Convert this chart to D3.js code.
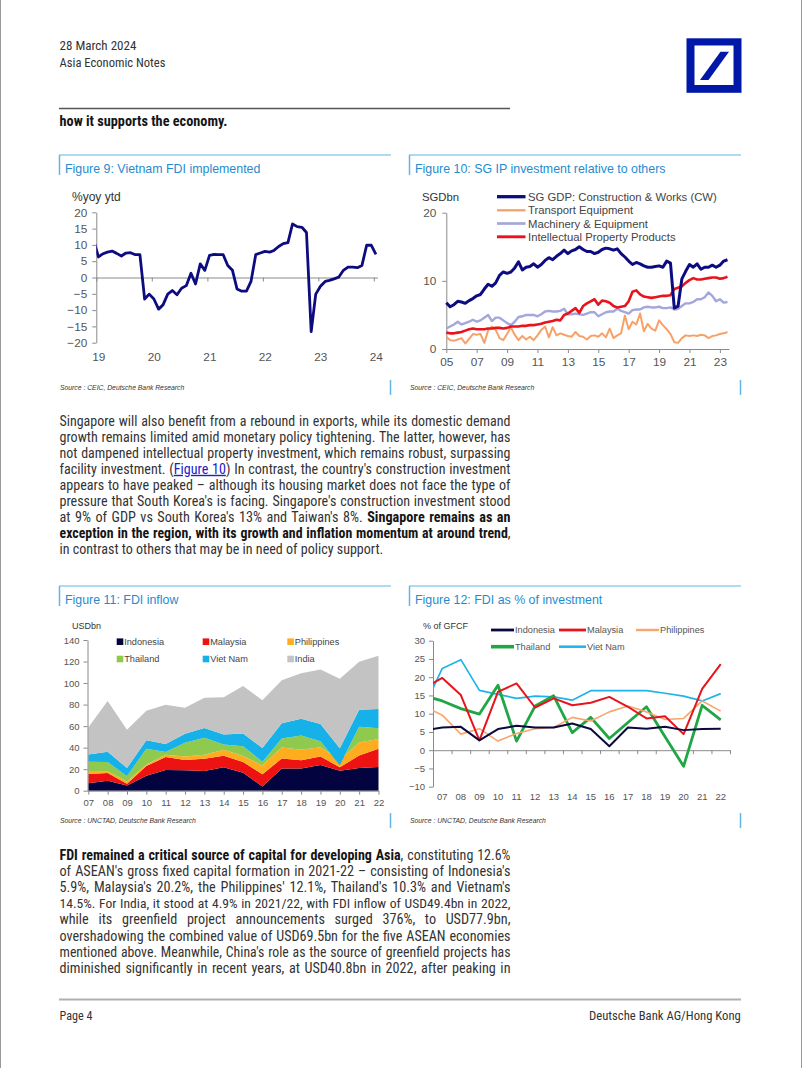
<!DOCTYPE html>
<html><head><meta charset="utf-8">
<script src="https://cdn.jsdelivr.net/npm/d3@7"></script>
<style>body{margin:0;background:#fff}svg{display:block}</style>
</head><body><svg id="page" width="802" height="1068"></svg>
<script>
// ---------------- DATA ----------------
// Figure 9: Vietnam FDI implemented, %yoy ytd, monthly Dec-2018 .. Jan-2024
const fig9Start = [2018, 11];
const vnFdiYtd = [11.5,
  6.3,7.3,7.8,8.1,7.4,6.6,7.5,7.6,7.0,7.0,-6.6,-5.1,
  -6.6,-9.7,-8.4,-5.1,-4.0,-5.3,-3.3,-2.5,1.3,-2.0,4.2,2.2,
  6.8,7.1,7.0,7.0,3.7,2.2,-3.5,-4.2,-4.2,-1.2,7.0,7.5,
  8.0,7.8,8.3,9.5,10.4,10.7,16.4,15.6,15.4,13.8,-16.6,-5.1,
  -2.7,-1.2,-0.9,-0.4,0.1,2.2,3.2,3.2,3.0,3.7,9.9,9.9,
  7.1];
const fig9YTicks = [-20,-15,-10,-5,0,5,10,15,20];
const fig9XTicks = [2019,2020,2021,2022,2023,2024];

// Figure 10: SG investment, SGDbn, quarterly 2005Q1 .. 2023Q3
const fig10StartYear = 2005;
const sgConstruction = [6.8,6.2,6.5,7.0,6.9,6.7,7.1,7.4,7.8,8.0,
  8.8,9.5,9.2,9.7,10.8,11.3,11.1,11.3,11.9,12.8,
  11.6,12.0,12.1,12.5,12.0,12.4,13.0,13.4,13.1,13.6,
  14.0,14.5,14.0,14.4,14.6,15.0,14.6,14.3,14.3,14.0,
  14.2,14.6,14.8,14.7,14.5,14.7,14.0,13.5,12.9,12.4,
  12.7,12.5,12.2,12.0,12.0,12.1,12.2,12.0,12.9,12.6,
  6.0,6.3,10.3,11.4,12.4,12.0,12.5,11.7,12.0,12.0,
  12.3,12.0,12.3,12.9,13.1];
const sgTransport = [1.8,1.3,1.2,1.4,1.6,0.8,1.5,2.2,2.1,2.2,
  0.9,2.7,3.3,2.8,1.6,1.3,2.2,3.2,2.1,1.3,
  1.9,1.4,1.8,1.3,2.0,2.8,3.3,1.7,3.2,2.0,
  2.3,2.1,1.9,1.8,2.5,1.9,1.8,1.4,1.9,2.0,
  1.8,2.3,1.7,3.0,1.6,2.0,2.3,4.9,2.9,4.0,
  3.6,5.2,2.6,3.7,3.0,2.7,4.2,3.5,2.9,2.2,
  1.0,0.9,1.6,2.0,1.9,2.0,1.9,2.1,2.0,1.6,
  1.9,2.0,2.2,2.3,2.5];
const sgMachinery = [3.0,3.3,3.6,4.0,3.6,3.8,4.0,4.3,4.0,4.2,
  4.6,5.0,4.1,4.6,4.6,4.2,3.8,3.5,4.0,4.7,
  4.8,5.0,5.0,5.0,4.8,5.1,5.5,5.6,5.5,5.5,
  5.6,5.9,5.1,5.1,5.2,5.1,5.0,5.2,5.4,5.4,
  4.8,5.1,5.4,5.5,5.5,5.9,5.6,5.4,5.2,5.7,
  5.8,5.8,6.1,6.2,6.1,6.1,6.2,6.0,6.0,6.1,
  5.8,5.9,6.3,6.7,6.7,6.9,7.3,7.3,7.6,8.3,
  7.8,7.0,7.3,6.8,6.9];
const sgIPP = [2.4,2.3,2.3,2.4,2.5,2.7,2.9,3.0,2.9,2.9,
  2.9,3.0,3.0,3.1,3.1,3.0,3.1,3.3,3.3,3.3,
  3.4,3.4,3.5,3.5,3.6,3.7,3.9,4.0,4.1,4.3,
  4.2,5.0,5.2,5.6,6.0,5.3,6.3,6.7,7.0,7.3,
  6.5,7.1,7.0,6.8,6.3,6.1,6.2,6.3,7.0,8.4,
  8.6,8.0,7.7,7.6,7.5,7.6,7.7,7.8,7.8,7.9,
  8.8,9.0,9.2,9.7,10.1,10.4,10.2,10.2,10.3,10.4,
  10.5,10.5,10.3,10.4,10.6];
const fig10Names = ["SG GDP: Construction & Works (CW)","Transport Equipment","Machinery & Equipment","Intellectual Property Products"];
const fig10YTicks = [0,10,20];
const fig10XTicks = [2005,2007,2009,2011,2013,2015,2017,2019,2021,2023];

// Figure 11: FDI inflow, USDbn, 2007..2022
const years11 = ["07","08","09","10","11","12","13","14","15","16","17","18","19","20","21","22"];
const fdiIndonesia  = [6.9,9.3,4.9,13.8,19.2,19.1,18.4,21.8,16.6,3.9,20.6,20.6,23.9,18.6,21.2,22.0];
const fdiMalaysia   = [8.5,7.2,1.5,9.1,12.2,9.4,11.3,10.6,10.1,11.3,9.3,7.6,7.8,3.2,11.6,16.9];
const fdiPhilippines= [2.9,1.5,2.1,1.3,2.0,3.2,3.7,5.7,5.6,8.3,10.3,9.9,8.7,6.8,12.0,9.2];
const fdiThailand   = [8.6,8.6,5.0,14.7,2.5,12.9,15.9,4.8,9.0,3.5,8.3,13.2,5.5,-4.9,14.6,10.0];
const fdiVietNam    = [6.7,9.6,7.6,8.0,7.4,8.4,8.9,9.2,11.8,12.6,14.1,15.5,16.1,15.8,15.7,17.9];
const fdiIndia      = [25.2,47.1,35.6,27.4,36.5,24.0,28.2,34.6,44.1,44.5,40.0,42.2,50.6,64.4,44.7,49.4];
const fig11Names = ["Indonesia","Malaysia","Philippines","Thailand","Viet Nam","India"];
const fig11YTicks = [0,20,40,60,80,100,120,140];

// Figure 12: FDI as % of GFCF ("06" sits left of the axis and is clipped)
const cats12 = ["06","07","08","09","10","11","12","13","14","15","16","17","18","19","20","21","22"];
const gfcfIndonesia  = [5.4,6.2,6.4,2.7,5.8,6.7,6.2,6.2,7.3,5.8,1.1,6.2,5.9,6.4,5.5,5.8,5.9];
const gfcfMalaysia   = [17.0,19.8,15.1,2.7,16.0,18.3,11.7,14.2,12.3,13.0,14.6,11.9,8.7,9.3,4.4,16.8,23.6];
const gfcfPhilippines= [12.1,9.6,4.4,5.9,2.5,4.6,5.9,6.2,9.0,8.0,10.5,12.1,10.5,8.4,8.7,13.5,10.7];
const gfcfThailand   = [15.0,13.5,11.4,9.9,17.8,2.5,12.1,14.9,4.8,9.0,3.2,7.6,11.9,3.7,-4.4,12.3,8.3];
const gfcfVietNam    = [11.5,22.4,24.8,16.4,15.3,14.2,14.8,14.6,13.7,16.3,16.3,16.3,16.3,15.6,14.8,13.5,15.5];
const fig12Names = ["Indonesia","Malaysia","Philippines","Thailand","Viet Nam"];
const fig12YTicks = [-10,-5,0,5,10,15,20,25,30];

// ---------------- STYLE ----------------
const BODY = "'Liberation Sans Narrow','Arial Narrow','Roboto Condensed','Liberation Sans',Arial,sans-serif";
const CHART = "'Liberation Sans',Arial,sans-serif";
const TITLE_BLUE = "#1f8ccf";
const FRAME_BLUE = "#62b6e6";
const AXIS = "#8a8a8a";
const TICKTXT = "#555";

const svg = d3.select("#page");
svg.append("rect").attr("width",802).attr("height",1068).attr("fill","#fff");
svg.append("line").attr("x1",0.5).attr("x2",0.5).attr("y1",0).attr("y2",1068).attr("stroke","#999");
svg.append("line").attr("x1",801.5).attr("x2",801.5).attr("y1",0).attr("y2",1068).attr("stroke","#999");

function textLine(x, y, parts, o) {
  o = o || {};
  let size = o.size || 13;
  const t = svg.append("text").attr("x", x).attr("y", y)
    .attr("font-family", o.font || BODY).attr("font-size", size)
    .attr("fill", o.fill || "#333").attr("text-anchor", o.anchor || "start");
  parts.forEach(p => {
    const s = t.append("tspan").text(p.t);
    if (p.b) s.attr("font-weight", "bold").attr("fill", "#151515");
    if (p.link) s.attr("fill", "#2020c8").attr("text-decoration", "underline");
  });
  if (o.width) {
    let w = t.node().getComputedTextLength();
    const n = parts.map(p => p.t).join("").split(" ").length - 1;
    if (o.justify && n > 0) {
      const minW = o.width - n * 0.6;
      if (w > minW) {
        size = size * minW / w;
        t.attr("font-size", size);
        w = t.node().getComputedTextLength();
      }
      t.style("word-spacing", Math.max(0, (o.width - w) / n) + "px");
    } else {
      size = size * o.width / w;
      t.attr("font-size", size);
    }
  }
  return t;
}

// ---------------- HEADER / FOOTER ----------------
textLine(59.5, 50, [{t:"28 March 2024"}], {size:13, width:77});
textLine(59.5, 67, [{t:"Asia Economic Notes"}], {size:13, width:106});
svg.append("line").attr("x1",59).attr("x2",510).attr("y1",108.5).attr("y2",108.5).attr("stroke","#555").attr("stroke-width",1.6);
textLine(59.5, 126, [{t:"how it supports the economy.", b:true}], {size:13.8, width:168});

// logo
const logo = svg.append("g");
logo.append("rect").attr("x",686.5).attr("y",38.3).attr("width",55).attr("height",54.5).attr("fill","#0018a8");
logo.append("rect").attr("x",694.5).attr("y",45.5).attr("width",39).attr("height",39.5).attr("fill","#fff");
logo.append("polygon").attr("points","700,80 708.5,80 729,51.7 720.5,51.7").attr("fill","#0018a8");

svg.append("line").attr("x1",59).attr("x2",741).attr("y1",999.5).attr("y2",999.5).attr("stroke","#b0b0b0").attr("stroke-width",2);
textLine(59.5, 1020, [{t:"Page 4"}], {size:13, width:33});
textLine(589, 1020, [{t:"Deutsche Bank AG/Hong Kong"}], {size:13, width:152});

// ---------------- BODY TEXT ----------------
const BODY_SIZE = 14.2;
const para1 = [
  [{t:"Singapore will also benefit from a rebound in exports, while its domestic demand"}],
  [{t:"growth remains limited amid monetary policy tightening. The latter, however, has"}],
  [{t:"not dampened intellectual property investment, which remains robust, surpassing"}],
  [{t:"facility investment. ("},{t:"Figure 10",link:true},{t:") In contrast, the country's construction investment"}],
  [{t:"appears to have peaked \u2013 although its housing market does not face the type of"}],
  [{t:"pressure that South Korea's is facing. Singapore's construction investment stood"}],
  [{t:"at 9% of GDP vs South Korea's 13% and Taiwan's 8%. "},{t:"Singapore remains as an",b:true}],
  [{t:"exception in the region, with its growth and inflation momentum at around trend",b:true},{t:","}],
  [{t:"in contrast to others that may be in need of policy support."}]
];
para1.forEach((parts, i) => {
  const last = i === para1.length - 1;
  textLine(59.5, 425.5 + 16.1 * i, parts, {size:BODY_SIZE, width: last ? 324 : 451, justify: !last});
});
const para2 = [
  [{t:"FDI remained a critical source of capital for developing Asia",b:true},{t:", constituting 12.6%"}],
  [{t:"of ASEAN's gross fixed capital formation in 2021-22 \u2013 consisting of Indonesia's"}],
  [{t:"5.9%, Malaysia's 20.2%, the Philippines' 12.1%, Thailand's 10.3% and Vietnam's"}],
  [{t:"14.5%. For India, it stood at 4.9% in 2021/22, with FDI inflow of USD49.4bn in 2022,"}],
  [{t:"while its greenfield project announcements surged 376%, to USD77.9bn,"}],
  [{t:"overshadowing the combined value of USD69.5bn for the five ASEAN economies"}],
  [{t:"mentioned above. Meanwhile, China's role as the source of greenfield projects has"}],
  [{t:"diminished significantly in recent years, at USD40.8bn in 2022, after peaking in"}]
];
para2.forEach((parts, i) => {
  textLine(59.5, 859.5 + 16.2 * i, parts, {size:BODY_SIZE, width:451, justify:true});
});

// ---------------- FIGURE FRAMES ----------------
function frame(x0, x1, yTop, title, ySrc, source) {
  svg.append("line").attr("x1",x0).attr("x2",x1).attr("y1",yTop).attr("y2",yTop).attr("stroke",FRAME_BLUE).attr("stroke-width",1.2);
  svg.append("line").attr("x1",x0+0.5).attr("x2",x0+0.5).attr("y1",yTop).attr("y2",yTop+20).attr("stroke",FRAME_BLUE).attr("stroke-width",1.5);
  svg.append("text").attr("x",x0+6).attr("y",yTop+17.5).attr("font-family",CHART).attr("font-size",12.4).attr("fill",TITLE_BLUE).text(title);
  svg.append("text").attr("x",x0+1).attr("y",ySrc+2.5).attr("font-family",CHART).attr("font-size",6.8).attr("font-style","italic").attr("fill","#333").text(source);
  svg.append("line").attr("x1",x1-0.5).attr("x2",x1-0.5).attr("y1",ySrc-7).attr("y2",ySrc+8).attr("stroke",FRAME_BLUE).attr("stroke-width",1.5);
}
frame(59, 391, 155, "Figure 9: Vietnam FDI implemented", 387, "Source : CEIC, Deutsche Bank Research");
frame(409, 741, 155, "Figure 10: SG IP investment relative to others", 387, "Source : CEIC, Deutsche Bank Research");
frame(59, 391, 586, "Figure 11: FDI inflow", 820, "Source : UNCTAD, Deutsche Bank Research");
frame(409, 741, 586, "Figure 12: FDI as % of investment", 820, "Source : UNCTAD, Deutsche Bank Research");

function styleAxis(g, size) {
  g.selectAll("path.domain").attr("stroke", AXIS);
  g.selectAll(".tick line").attr("stroke", AXIS);
  g.selectAll("text").attr("font-family", CHART).attr("font-size", size).attr("fill", TICKTXT);
}
const defs = svg.append("defs");

// ---------------- FIGURE 9 ----------------
{
  const x = d3.scaleTime().domain([new Date(2019,0,1), new Date(2024,0,1)]).range([96.3, 373.8]);
  const y = d3.scaleLinear().domain([-20, 20]).range([342.7, 212.3]);
  const dates = vnFdiYtd.map((v, i) => new Date(fig9Start[0], fig9Start[1] + i, 15));
  defs.append("clipPath").attr("id","c9").append("rect").attr("x",96.3).attr("y",190).attr("width",300).attr("height",170);
  svg.append("text").attr("x",72).attr("y",201).attr("font-family",CHART).attr("font-size",12).attr("fill","#333").text("%yoy ytd");
  const ya = svg.append("g").attr("transform","translate(96.3,0)")
    .call(d3.axisLeft(y).tickValues(fig9YTicks).tickSize(4).tickSizeOuter(0).tickPadding(5));
  styleAxis(ya, 11.8);
  const xa = svg.append("g").attr("transform",`translate(0,${y(0)})`)
    .call(d3.axisBottom(x).tickValues(fig9XTicks.map(d => new Date(d,0,1))).tickSize(4).tickSizeOuter(0).tickFormat(""));
  styleAxis(xa, 11.8);
  xa.select("path.domain").attr("d", `M96.3,0.5H378`);
  const xl = svg.append("g").attr("transform","translate(2,342.7)")
    .call(d3.axisBottom(x).tickValues(fig9XTicks.map(d => new Date(d,0,1))).tickSize(0).tickPadding(10).tickFormat(d3.timeFormat("%y")));
  xl.select("path.domain").remove();
  styleAxis(xl, 11.8);
  svg.append("path").attr("clip-path","url(#c9)")
    .attr("d", d3.line().x((d,i) => x(dates[i])).y(d => y(d))(vnFdiYtd))
    .attr("fill","none").attr("stroke","#0c0c80").attr("stroke-width",2.8).attr("stroke-linejoin","round");
}

// ---------------- FIGURE 10 ----------------
{
  const x = d3.scaleLinear().domain([2005, 2023.6]).range([446.3, 729]);
  const y = d3.scaleLinear().domain([0, 20]).range([349, 212.7]);
  const tq = sgConstruction.map((v, k) => fig10StartYear + k / 4);
  svg.append("text").attr("x",422).attr("y",201).attr("font-family",CHART).attr("font-size",11.3).attr("fill","#333").text("SGDbn");
  const ya = svg.append("g").attr("transform","translate(446.3,0)")
    .call(d3.axisLeft(y).tickValues(fig10YTicks).tickSize(4).tickSizeOuter(0).tickPadding(6));
  styleAxis(ya, 11.8);
  const xa = svg.append("g").attr("transform","translate(0,349)")
    .call(d3.axisBottom(x).tickValues(fig10XTicks).tickSize(4).tickSizeOuter(0).tickPadding(5).tickFormat(d => String(d).slice(2)));
  styleAxis(xa, 11.8);
  const series = [
    {v: sgConstruction, c:"#0c0c80", w:3},
    {v: sgTransport, c:"#f7a168", w:2},
    {v: sgMachinery, c:"#a4a7db", w:2.4},
    {v: sgIPP, c:"#e8131b", w:2.6}
  ];
  const line = d3.line().x((d,i) => x(tq[i])).y(d => y(d));
  [1,2,3,0].forEach(j => {
    svg.append("path").attr("d", line(series[j].v)).attr("fill","none")
      .attr("stroke", series[j].c).attr("stroke-width", series[j].w).attr("stroke-linejoin","round");
  });
  const rows = [196.7, 210.3, 223.5, 236.8];
  fig10Names.forEach((n, j) => {
    svg.append("line").attr("x1",497).attr("x2",525.5).attr("y1",rows[j]).attr("y2",rows[j])
      .attr("stroke", series[j].c).attr("stroke-width", series[j].w + 0.3);
    svg.append("text").attr("x",528).attr("y",rows[j]+4).attr("font-family",CHART).attr("font-size",11.3).attr("fill","#444").text(n);
  });
}

// ---------------- FIGURE 11 ----------------
{
  const yrs = years11.map(d => 2000 + +d);
  const x = d3.scaleLinear().domain([2007, 2022]).range([88.3, 378.5]);
  const y = d3.scaleLinear().domain([0, 140]).range([790.7, 640]);
  const cols = ["#03033f","#ee1313","#ffad1f","#8fca4f","#15b1e8","#c3c3c3"];
  const vals = [fdiIndonesia, fdiMalaysia, fdiPhilippines, fdiThailand, fdiVietNam, fdiIndia];
  const table = yrs.map((yr, i) => {
    const r = {year: yr};
    fig11Names.forEach((n, j) => r[n] = vals[j][i]);
    return r;
  });
  const stacked = d3.stack().keys(fig11Names)(table);
  const area = d3.area().x(d => x(d.data.year)).y0(d => y(d[0])).y1(d => y(d[1]));
  stacked.forEach((s, j) => svg.append("path").attr("d", area(s)).attr("fill", cols[j]));
  svg.append("text").attr("x",72).attr("y",629).attr("font-family",CHART).attr("font-size",9).attr("fill","#333").text("USDbn");
  const ya = svg.append("g").attr("transform","translate(87.5,0)")
    .call(d3.axisLeft(y).tickValues(fig11YTicks).tickSize(4).tickSizeOuter(0).tickPadding(4));
  styleAxis(ya, 9.5);
  const xa = svg.append("g").attr("transform","translate(0,790.7)")
    .call(d3.axisBottom(x).tickValues(yrs).tickSize(4).tickSizeOuter(0).tickPadding(4.5).tickFormat(d => String(d).slice(2)));
  styleAxis(xa, 9.5);
  xa.select("path.domain").attr("d","M87.5,0.5H379");
  const lx = [116.7, 202.7, 287.3], ly = [641.7, 659];
  fig11Names.forEach((n, j) => {
    const cx = lx[j % 3], cy = ly[Math.floor(j / 3)];
    svg.append("rect").attr("x",cx).attr("y",cy-3.3).attr("width",6.6).attr("height",6.6).attr("fill",cols[j]);
    svg.append("text").attr("x",cx+7.5).attr("y",cy+3.3).attr("font-family",CHART).attr("font-size",9.2).attr("fill","#444").text(n);
  });
}

// ---------------- FIGURE 12 ----------------
{
  const x = d3.scaleBand().domain(cats12.slice(1)).range([433, 730]).paddingInner(0).paddingOuter(0);
  const step = x.bandwidth();
  const cx = c => c === "06" ? x("07") + step / 2 - step : x(c) + step / 2;
  const y = d3.scaleLinear().domain([-10, 30]).range([786.7, 640.7]);
  defs.append("clipPath").attr("id","c12").append("rect").attr("x",433).attr("y",630).attr("width",310).attr("height",170);
  svg.append("text").attr("x",423).attr("y",628.5).attr("font-family",CHART).attr("font-size",9).attr("fill","#333").text("% of GFCF");
  const ya = svg.append("g").attr("transform","translate(433,0)")
    .call(d3.axisLeft(y).tickValues(fig12YTicks).tickSize(4).tickSizeOuter(0).tickPadding(4));
  styleAxis(ya, 9.5);
  const bx = d3.scaleLinear().domain([0, 16]).range([433, 730]);
  const xa = svg.append("g").attr("transform",`translate(0,${y(0)})`)
    .call(d3.axisBottom(bx).tickValues(d3.range(0, 17)).tickSize(4).tickSizeOuter(0).tickFormat(""));
  styleAxis(xa, 9.5);
  const xl = svg.append("g").attr("transform","translate(0,786.7)")
    .call(d3.axisBottom(x).tickSize(0).tickPadding(7));
  xl.select("path.domain").remove();
  styleAxis(xl, 9.5);
  const series = [
    {v: gfcfIndonesia, c:"#0a0a3e", w:2},
    {v: gfcfMalaysia, c:"#e8141c", w:2},
    {v: gfcfPhilippines, c:"#f7a66e", w:1.6},
    {v: gfcfThailand, c:"#21a646", w:2.8},
    {v: gfcfVietNam, c:"#20b3ea", w:1.7}
  ];
  const line = d3.line().x((d,i) => cx(cats12[i])).y(d => y(d));
  [4,3,2,1,0].forEach(j => {
    svg.append("path").attr("clip-path","url(#c12)").attr("d", line(series[j].v)).attr("fill","none")
      .attr("stroke", series[j].c).attr("stroke-width", series[j].w).attr("stroke-linejoin","round");
  });
  const lxs = [[491,514,515],[559,586,587],[636,659,660]];
  const lys = [630, 646.7];
  fig12Names.forEach((n, j) => {
    const p = lxs[j % 3], yy = lys[Math.floor(j / 3)];
    svg.append("line").attr("x1",p[0]).attr("x2",p[1]).attr("y1",yy).attr("y2",yy)
      .attr("stroke", series[j].c).attr("stroke-width", series[j].w + 0.8);
    svg.append("text").attr("x",p[2]).attr("y",yy+3.3).attr("font-family",CHART).attr("font-size",9.2).attr("fill","#555").text(n);
  });
}
</script></body></html>
